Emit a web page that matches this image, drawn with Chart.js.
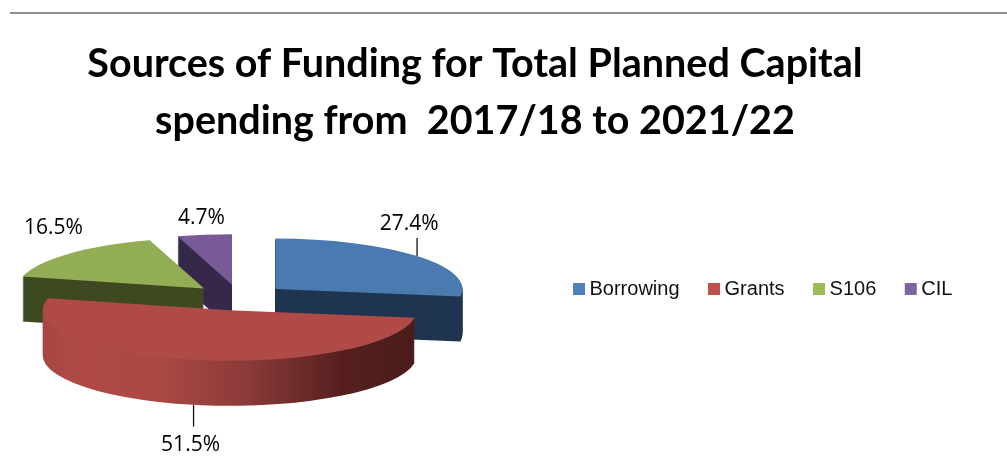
<!DOCTYPE html>
<html>
<head>
<meta charset="utf-8">
<script src="https://cdn.jsdelivr.net/npm/chart.js@4"></script>
<style>
html,body{margin:0;padding:0;background:#fff;overflow:hidden}
#rule{position:absolute;left:10px;right:0;top:12px;height:2px;background:#8f8f8f}
canvas{position:absolute;left:0;top:0}
</style>
</head>
<body>
<div id="rule"></div>
<canvas id="c" width="1007" height="457"></canvas>
<script>
const categories = ['Borrowing', 'Grants', 'S106', 'CIL'];
const shares = [27.4, 51.5, 16.5, 4.7];
const percentLabels = ['27.4%', '51.5%', '16.5%', '4.7%'];
const titleLines = ['Sources of Funding for Total Planned Capital', 'spending from  2017/18 to 2021/22'];

const legendColors = ['#4F81BD', '#C0504D', '#9BBB59', '#8064A2'];
const faceColors = ['#4a7ab0', '#af4a47', '#93ad55', '#775a96'];
const sideColors = ['#1f3550', null, '#3e4a22', '#35284a'];
const drawOrder = [3, 0, 2, 1];

const flatten = 0.27, depth = 45, explode = 48;
const labelOffsets = [[-8, -32], [-3, 40], [-15, -26], [-3, -17]];
const leaderLengths = [18, 22, 0, 0];

const pie3d = {
  id: 'pie3d',
  beforeDatasetDraw() { return false; },
  afterLayout(chart) {
    chart.titleBlock.left = 0;
    chart.titleBlock.right = 950;
    const lg = chart.legend;
    lg.left = 544.5;
    lg.right = 1007;
    lg.top = 289 - lg.options.labels.padding - lg.legendHitBoxes[0].height / 2;
    lg.bottom = lg.top + lg.height;
  },
  beforeDatasetsDraw(chart) {
    const ctx = chart.ctx;
    const arcs = chart.getDatasetMeta(0).data;
    const cx = arcs[0].x, cy = arcs[0].y, r = arcs[0].outerRadius;
    const paint = (i, fill, dy) => {
      const a = arcs[i];
      const mid = (a.startAngle + a.endAngle) / 2;
      ctx.save();
      ctx.translate(cx, cy + dy);
      ctx.scale(1, flatten);
      ctx.translate(-cx, -cy);
      ctx.translate(Math.cos(mid) * explode, Math.sin(mid) * explode);
      const o = a.options;
      let style = fill;
      if (!style) {
        const g = ctx.createLinearGradient(cx - r, 0, cx + r, 0);
        g.addColorStop(0, '#a64543');
        g.addColorStop(0.08, '#b04a46');
        g.addColorStop(0.32, '#a94845');
        g.addColorStop(0.55, '#8a3a38');
        g.addColorStop(0.8, '#561f1e');
        g.addColorStop(1, '#4a1c1a');
        style = g;
      }
      a.options = Object.create(o, { backgroundColor: { value: style } });
      a.draw(ctx);
      a.options = o;
      ctx.restore();
    };
    drawOrder.forEach(i => {
      for (let d = depth; d >= 1; d--) paint(i, sideColors[i], d);
    });
    faceColors.forEach((c, i) => paint(i, c, 0));

    ctx.save();
    ctx.font = '21px "Open Sans"';
    ctx.fillStyle = '#000';
    ctx.strokeStyle = '#111';
    ctx.lineWidth = 1.3;
    ctx.textAlign = 'center';
    ctx.textBaseline = 'middle';
    arcs.forEach((a, i) => {
      const mid = (a.startAngle + a.endAngle) / 2;
      const rr = r + explode;
      const s = Math.sin(mid);
      const ax = cx + Math.cos(mid) * rr;
      const ay = cy + s * rr * flatten + (s > 0 ? depth : 0);
      const len = leaderLengths[i];
      if (len) {
        ctx.beginPath();
        ctx.moveTo(ax, ay);
        ctx.lineTo(ax, ay + (s > 0 ? len : -len));
        ctx.stroke();
      }
      ctx.fillText(percentLabels[i], ax + labelOffsets[i][0], ay + labelOffsets[i][1]);
    });
    ctx.restore();
  }
};

new Chart(document.getElementById('c'), {
  type: 'pie',
  data: {
    labels: categories,
    datasets: [{
      data: shares,
      backgroundColor: legendColors,
      borderWidth: 0,
      radius: 187,
      clip: false
    }]
  },
  options: {
    responsive: false,
    animation: false,
    events: [],
    layout: { padding: { left: 0, right: 529, top: 0, bottom: 76 } },
    plugins: {
      tooltip: { enabled: false },
      title: {
        display: true,
        text: titleLines,
        color: '#000',
        font: { family: 'Lato', weight: 'bold', size: 39.5, lineHeight: 1.443 },
        padding: { top: 36, bottom: 0 }
      },
      legend: {
        display: true,
        position: 'top',
        align: 'start',
        labels: {
          color: '#111',
          font: { family: '"Liberation Sans"', size: 20 },
          usePointStyle: true,
          pointStyle: 'rect',
          boxWidth: 1,
          boxHeight: 12,
          padding: 34
        }
      }
    }
  },
  plugins: [pie3d]
});
</script>
</body>
</html>
